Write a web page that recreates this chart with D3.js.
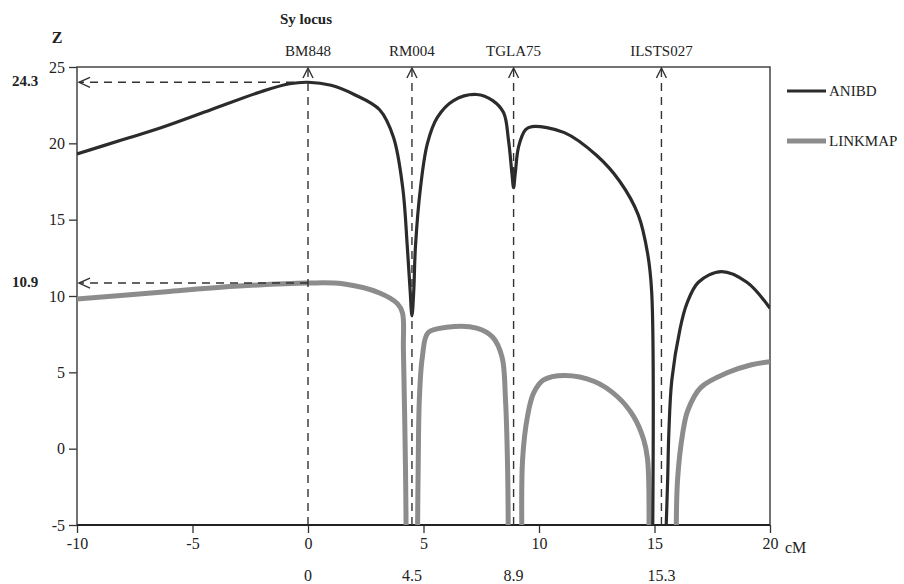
<!DOCTYPE html>
<html lang="en">
<head>
    <meta charset="UTF-8">
    <title>Sy locus - ANIBD vs LINKMAP</title>
    <script src="https://cdnjs.cloudflare.com/ajax/libs/d3/7.8.5/d3.min.js"></script>
    <style>
        body {
            margin: 0;
            background-color: white;
        }

        svg text {
            font-family: "Liberation Serif", "DejaVu Serif", serif;
            fill: #222;
        }

        .bold {
            font-weight: bold;
        }
    </style>
</head>
<body>
<div id="chart"></div>
<script type="text/javascript">
    // ANIBD curve (position in cM, Z score); -9 marks "off the chart"
    const anibdPos = [-10, -8, -6.4, -4.2, -2, -0.8, 0, 1, 2, 3.1, 3.7, 4.1, 4.3, 4.42, 4.5, 4.58, 4.65, 4.87, 5.17,
        5.6, 6.3, 7.3, 8.0, 8.47, 8.68, 8.83, 8.9, 8.97, 9.12, 9.42, 9.7, 11.1, 12.5, 13.5, 14.3, 14.7, 14.88, 14.92,
        15.2, 15.49, 15.57, 15.62, 15.75, 16.1, 16.4, 16.9, 17.9, 19, 20];
    const anibdZ = [19.3, 20.25, 21.0, 22.2, 23.4, 23.9, 24.0, 23.8, 23.2, 22.2, 20.4, 17.1, 13.2, 10.4, 8.7, 10.4, 13.2,
        17.1, 20.0, 21.7, 22.8, 23.2, 22.8, 22.0, 20.2, 18.0, 17.1, 18.0, 19.8, 20.9, 21.1, 20.7, 19.2, 17.5, 15.3,
        12.8, 10.2, -5.8, -9, -5.8, -2, 1.0, 4.5, 7.8, 9.5, 10.9, 11.6, 10.9, 9.2];

    // LINKMAP curve
    const linkmapPos = [-10, -6, -3, 0, 1.5, 3.1, 3.87, 4.09, 4.13, 4.22, 4.25, 4.5, 4.74, 4.77, 4.82, 4.95, 5.2, 6.0,
        7.3, 8.0, 8.4, 8.55, 8.64, 8.67, 9.0, 9.26, 9.29, 9.5, 9.77, 10.2, 11.1, 12.4, 13.4, 14.1, 14.53, 14.7, 14.76,
        15.3, 15.94, 16.0, 16.22, 16.44, 17.0, 18.2, 19.2, 20];
    const linkmapZ = [9.8, 10.3, 10.65, 10.85, 10.8, 10.2, 9.5, 8.9, 6.5, -1.2, -5.8, -9, -5.8, -1.2, 3.2, 6.0, 7.6,
        7.95, 7.9, 7.3, 6.0, 3.2, -1.2, -5.8, -9, -5.8, -0.7, 2.1, 3.65, 4.5, 4.8, 4.4, 3.4, 2.1, 0.6, -0.7, -5.8,
        -9, -5.8, -2.0, 1.0, 2.5, 4.0, 5.0, 5.5, 5.7];

    // markers
    const markerNames = ['BM848', 'RM004', 'TGLA75', 'ILSTS027'];
    const markerPos = [0, 4.5, 8.9, 15.3];
    const markerLabels = ['0', '4.5', '8.9', '15.3'];

    const xTicks = [-10, -5, 0, 5, 10, 15, 20];
    const yTicks = [-5, 0, 5, 10, 15, 20, 25];
    const peakLabels = ['24.3', '10.9'];

    function onLoad() {
        const width = 904;
        const height = 584;
        const left = 77, right = 770, top = 67, bottom = 525;

        const svg = d3.select('#chart')
            .append('svg')
            .attr('width', width)
            .attr('height', height);

        const x = d3.scaleLinear().domain([-10, 20]).range([left, right]);
        const y = d3.scaleLinear().domain([-5, 25]).range([bottom, top]);

        svg.append('clipPath').attr('id', 'plot-clip')
            .append('rect')
            .attr('x', left).attr('y', top - 5)
            .attr('width', right - left).attr('height', bottom - top + 5);

        // axes (plain hyphen minus like the original)
        const fmt = d => String(d);
        const yAxis = d3.axisLeft(y).tickValues(yTicks).tickSize(8).tickPadding(4).tickFormat(fmt);
        const gy = svg.append('g').attr('transform', `translate(${left},0)`).call(yAxis);
        const xAxis = d3.axisBottom(x).tickValues(xTicks).tickSize(8).tickPadding(5).tickFormat(fmt);
        const gx = svg.append('g').attr('transform', `translate(0,${bottom})`).call(xAxis);
        [gx, gy].forEach(g => {
            g.select('.domain').remove();
            g.selectAll('line').attr('stroke', '#333').attr('stroke-width', 1.3);
            g.selectAll('text')
                .style('font-family', '"Liberation Serif", serif')
                .style('font-size', '16px')
                .attr('fill', '#222');
        });

        svg.append('text').attr('x', 785).attr('y', bottom + 28)
            .style('font-size', '16px').text('cM');

        // frame
        svg.append('rect')
            .attr('x', left).attr('y', top)
            .attr('width', right - left).attr('height', bottom - top)
            .attr('fill', 'none').attr('stroke', '#444').attr('stroke-width', 1.5);
        svg.append('line')
            .attr('x1', left).attr('x2', right).attr('y1', bottom).attr('y2', bottom)
            .attr('stroke', '#222').attr('stroke-width', 2.2);

        const line = d3.line()
            .defined(d => d[1] > -8)
            .x(d => x(d[0]))
            .y(d => y(d[1]))
            .curve(d3.curveCatmullRom.alpha(0.5));

        const plot = svg.append('g').attr('clip-path', 'url(#plot-clip)');

        plot.append('path')
            .datum(d3.zip(linkmapPos, linkmapZ))
            .attr('d', line)
            .attr('fill', 'none')
            .attr('stroke', '#8c8c8c')
            .attr('stroke-width', 5);

        plot.append('path')
            .datum(d3.zip(anibdPos, anibdZ))
            .attr('d', line)
            .attr('fill', 'none')
            .attr('stroke', '#2b2b2b')
            .attr('stroke-width', 3.2);

        // dashed marker lines with arrows
        const dash = '8,6';
        markerPos.forEach((m, i) => {
            svg.append('line')
                .attr('x1', x(m)).attr('x2', x(m))
                .attr('y1', y(25) + 2).attr('y2', y(-5))
                .attr('stroke', '#333').attr('stroke-width', 1.4)
                .attr('stroke-dasharray', dash);
            svg.append('path')
                .attr('d', `M${x(m) - 5},${y(25) + 11} L${x(m)},${y(25) + 1} L${x(m) + 5},${y(25) + 11}`)
                .attr('fill', 'none').attr('stroke', '#333').attr('stroke-width', 1.4);
            svg.append('text')
                .attr('x', x(m)).attr('y', 56)
                .attr('text-anchor', 'middle')
                .style('font-size', '15px')
                .text(markerNames[i]);
            svg.append('text')
                .attr('x', x(m)).attr('y', 581)
                .attr('text-anchor', 'middle')
                .style('font-size', '16px')
                .text(markerLabels[i]);
        });

        // horizontal peak arrows
        [d3.max(anibdZ), d3.max(linkmapZ)].forEach((p, i) => {
            const yy = y(p);
            svg.append('line')
                .attr('x1', x(0)).attr('x2', left + 2)
                .attr('y1', yy).attr('y2', yy)
                .attr('stroke', '#333').attr('stroke-width', 1.4)
                .attr('stroke-dasharray', dash);
            svg.append('path')
                .attr('d', `M${left + 13},${yy - 5} L${left + 2},${yy} L${left + 13},${yy + 5}`)
                .attr('fill', 'none').attr('stroke', '#333').attr('stroke-width', 1.4);
            svg.append('text')
                .attr('class', 'bold')
                .attr('x', 12).attr('y', yy + 4)
                .style('font-size', '15px')
                .text(peakLabels[i]);
        });

        svg.append('text').attr('class', 'bold')
            .attr('x', 57).attr('y', 43).attr('text-anchor', 'middle')
            .style('font-size', '16px').text('Z');
        svg.append('text').attr('class', 'bold')
            .attr('x', 306).attr('y', 24).attr('text-anchor', 'middle')
            .style('font-size', '15px').text('Sy locus');

        // legend
        const legend = [['ANIBD', '#2b2b2b', 3.2, 91], ['LINKMAP', '#8c8c8c', 5, 141]];
        legend.forEach(l => {
            svg.append('line')
                .attr('x1', 787).attr('x2', 826).attr('y1', l[3]).attr('y2', l[3])
                .attr('stroke', l[1]).attr('stroke-width', l[2]);
            svg.append('text')
                .attr('x', 829).attr('y', l[3] + 5)
                .style('font-size', '15px')
                .text(l[0]);
        });
    }

    document.addEventListener('DOMContentLoaded', onLoad);
</script>
</body>
</html>
